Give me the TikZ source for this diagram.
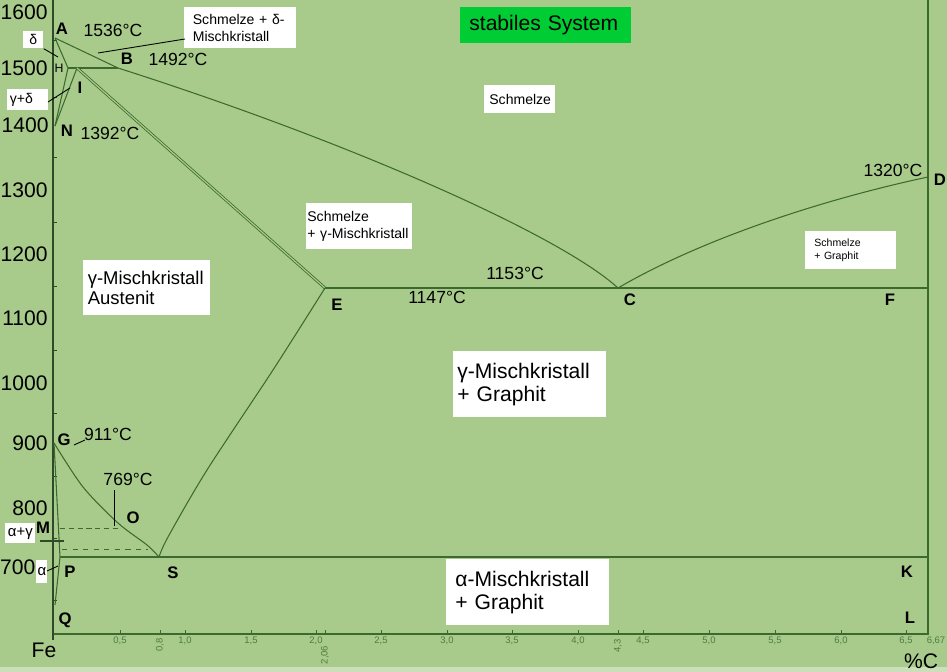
\documentclass[tikz,border=0pt]{standalone}
\usepackage{fontspec}
\setmainfont{Liberation Sans}

\definecolor{feld}{HTML}{A8CB8C}
\definecolor{linie}{HTML}{3C6A2E}
\definecolor{achse}{HTML}{2E4A28}
\definecolor{skala}{HTML}{4E7D3E}
\definecolor{gruen}{HTML}{00CC33}

\tikzset{
  phase/.style={linie, line width=0.6pt},
  zeiger/.style={black, line width=0.5pt},
  wbox/.style={fill=white, anchor=north west, align=left, inner ysep=0pt},
  pkt/.style={font=\fontsize{9.5}{10}\selectfont\bfseries},
  temp/.style={font=\fontsize{10}{11}\selectfont},
  tlab/.style={font=\fontsize{12}{12}\selectfont, anchor=east, inner sep=0pt},
  clab/.style={font=\fontsize{5.4}{6}\selectfont, skala, inner sep=0pt},
}

\begin{document}
\begin{tikzpicture}[x=0.02cm, y=-0.02cm]

  \useasboundingbox (0,0) rectangle (947,672);
  \fill[feld] (0,0) rectangle (947,672);
  \fill[feld!60!white] (0,667) rectangle (947,672);

  % axes
  \coordinate (oben) at (53,0);
  \coordinate (fuss) at (53,640);
  \coordinate (ursprung) at (53,634);
  \coordinate (rechts) at (928,634);
  \coordinate (rechtsoben) at (928,0);
  \draw[linie, line width=0.9pt] (ursprung) -- (rechts) -- (rechtsoben);
  \draw[achse, line width=1.7pt] (oben) -- (fuss);

  \foreach \t/\x/\y in {1600/48/12, 1500/48/68, 1400/49/125, 1300/48/190,
                        1200/48/254, 1100/48/318, 1000/48/383, 900/48/443,
                        800/48/508, 700/35.6/567}
    \node[tlab] (t\t) at (\x,\y) {\t};
  \foreach \y in {40, 97, 157, 222, 286, 350, 413, 476, 538, 600}
    \draw[achse, line width=0.3pt] (53,\y) -- (57,\y);

  \foreach \x/\c in {120/0{,}5, 185/1{,}0, 251/1{,}5, 316/2{,}0, 381/2{,}5,
                     447/3{,}0, 512/3{,}5, 578/4{,}0, 643/4{,}5, 709/5{,}0,
                     775/5{,}5, 841/6{,}0, 906/6{,}5}
    \node[clab] (c\x) at (\x,641) {\c};
  \node[clab] (c935) at (936,641) {6,67};
  \node[clab, rotate=90] (c160) at (160,645) {0,8};
  \node[clab, rotate=90] (c325) at (325,655) {2,06};
  \node[clab, rotate=90] (c618) at (618,646) {4,3};
  \foreach \x in {120, 160, 185, 251, 316, 325, 381, 447, 512, 578, 618,
                  643, 709, 775, 841, 906}
    \draw[linie, line width=0.4pt] (\x,630) -- (\x,634);

  % phase points
  \coordinate (A) at (55,38);
  \coordinate (H) at (68,68);
  \coordinate (I) at (77,68);
  \coordinate (B) at (118,68);
  \coordinate (N) at (55,126);
  \coordinate (E) at (325,288);
  \coordinate (C) at (618,288);
  \coordinate (F) at (928,288);
  \coordinate (D) at (928,177);
  \coordinate (G) at (54,443);
  \coordinate (O) at (120,528);
  \coordinate (S) at (159,557);
  \coordinate (P) at (60,557);
  \coordinate (K) at (928,557);
  \coordinate (Q) at (55,605);

  % phase lines
  \draw[phase] (A) -- (B);
  \draw[phase] (A) -- (H) -- (N);
  \draw[phase] (I) -- (N);
  \draw[phase] (H) -- (B);
  \draw[linie, line width=0.45pt, double=feld, double distance=0.7pt] (I) -- (E);
  \draw[phase] (B) .. controls (350,142) and (560,235) .. (C);
  \draw[phase] (C) .. controls (700,240) and (820,200) .. (D);
  \draw[phase] (E) -- (F);
  \draw[phase] plot[smooth] coordinates {(E) (273,370) (207,470) (168,537) (S)};
  \draw[phase] plot[smooth] coordinates {(G) (83,487) (118,523) (147,545) (S)};
  \draw[phase] (G) -- (P) -- (Q);
  \draw[phase] (P) -- (K);

  \coordinate (M1) at (60,528);
  \coordinate (d1) at (62,549);
  \coordinate (d2) at (148,549);
  \draw[linie, line width=0.4pt, densely dashed] (M1) -- (O);
  \draw[linie, line width=0.5pt, dashed] (d1) -- (d2);
  \coordinate (Ma) at (40,541);
  \coordinate (Mb) at (64,541);
  \draw[achse, line width=1.2pt] (Ma) -- (Mb);

  % point labels
  \node[pkt] (lA) at (62,29) {A};
  \node[pkt] (lB) at (127,59) {B};
  \node[font=\fontsize{7}{7}\selectfont] (lH) at (59,68) {H};
  \node[pkt] (lI) at (80,88) {I};
  \node[pkt] (lN) at (67,131) {N};
  \node[pkt] (lE) at (337,305) {E};
  \node[pkt] (lC) at (630,300) {C};
  \node[pkt] (lF) at (890,300) {F};
  \node[pkt] (lD) at (940,180) {D};
  \node[pkt] (lG) at (64,440) {G};
  \node[pkt] (lO) at (133,518) {O};
  \node[pkt] (lM) at (43,528) {M};
  \node[pkt] (lP) at (70,572) {P};
  \node[pkt] (lS) at (173,573) {S};
  \node[pkt] (lQ) at (65,620) {Q};
  \node[pkt] (lK) at (907,572) {K};
  \node[pkt] (lL) at (910,618) {L};
  \node[font=\fontsize{12}{12}\selectfont] (fe) at (44,650) {Fe};
  \node[font=\fontsize{12}{12}\selectfont] (pc) at (921,661) {\%C};

  % temperatures
  \node[temp] (t1536) at (113,30) {1536°C};
  \node[temp] (t1492) at (178,59) {1492°C};
  \node[temp] (t1392) at (110,133) {1392°C};
  \node[temp] (t1147) at (437,297) {1147°C};
  \node[temp] (t1153) at (515,273) {1153°C};
  \node[temp] (t1320) at (893,170) {1320°C};
  \node[temp] (t911) at (108,434) {911°C};
  \node[temp] (t769) at (128,479) {769°C};
  \coordinate (z911) at (74,445);
  \coordinate (z911b) at (85,440);
  \draw[zeiger] (z911) -- (z911b);
  \coordinate (z769) at (114,490);
  \coordinate (z769b) at (114,526);
  \draw[zeiger] (z769) -- (z769b);

  % boxes
  \node[wbox, text width=0.3cm, inner xsep=0.05cm, minimum height=0.34cm, align=center,
    font=\fontsize{8}{9}\selectfont] (delta) at (23,31) {δ};
  \node[wbox, text width=0.72cm, inner xsep=0.05cm, minimum height=0.42cm,
    font=\fontsize{8}{9}\selectfont] (gd) at (7,89) {γ+δ};
  \node[wbox, text width=1.9cm, inner xsep=0.17cm, minimum height=0.82cm,
    font=\fontsize{8}{9.5}\selectfont] (sd) at (184,7) {Schmelze + δ-\\Mischkristall};
  \node[wbox, fill=gruen, text width=3.06cm, inner xsep=0.18cm, minimum height=0.72cm,
    font=\fontsize{12}{13}\selectfont] (stabil) at (460,7) {stabiles System};
  \node[wbox, text width=1.22cm, inner xsep=0.1cm, minimum height=0.56cm,
    font=\fontsize{8}{9}\selectfont] (schm) at (484,85) {Schmelze};
  \node[wbox, text width=2.08cm, inner xsep=0.02cm, minimum height=0.92cm,
    font=\fontsize{8}{10}\selectfont] (sg) at (306,203) {Schmelze\\+ γ-Mischkristall};
  \node[wbox, text width=1.46cm, inner xsep=0.18cm, minimum height=0.76cm,
    font=\fontsize{6}{7}\selectfont] (sgr) at (805,231) {Schmelze\\+ Graphit};
  \node[wbox, text width=2.36cm, inner xsep=0.09cm, minimum height=1.1cm,
    font=\fontsize{10.5}{11.5}\selectfont] (aus) at (83,260) {γ-Mischkristall\\Austenit};
  \node[wbox, text width=2.9cm, inner xsep=0.08cm, minimum height=1.32cm,
    font=\fontsize{12}{13}\selectfont] (gg) at (453,351) {γ-Mischkristall\\+ Graphit};
  \node[wbox, text width=2.9cm, inner xsep=0.18cm, minimum height=1.32cm,
    font=\fontsize{12}{13}\selectfont] (ag) at (446,559) {α-Mischkristall\\+ Graphit};
  \node[wbox, text width=0.56cm, inner xsep=0.02cm, minimum height=0.4cm, align=center,
    font=\fontsize{8.5}{9}\selectfont] (agam) at (5,523) {α+γ};
  \node[wbox, text width=0.2cm, inner xsep=0.01cm, minimum height=0.46cm, align=center,
    font=\fontsize{8.5}{9}\selectfont] (alpha) at (36,560) {α};

  % pointers
  \coordinate (zd) at (58,57);
  \draw[zeiger] (delta.south east) -- (zd);
  \coordinate (zgd) at (70,88);
  \draw[zeiger] (48,102) -- (zgd);
  \coordinate (zsd) at (98,53);
  \draw[zeiger] (185,39) -- (zsd);
  \coordinate (za) at (58,566);
  \draw[zeiger] (47,571) -- (za);

\end{tikzpicture}
\end{document}
